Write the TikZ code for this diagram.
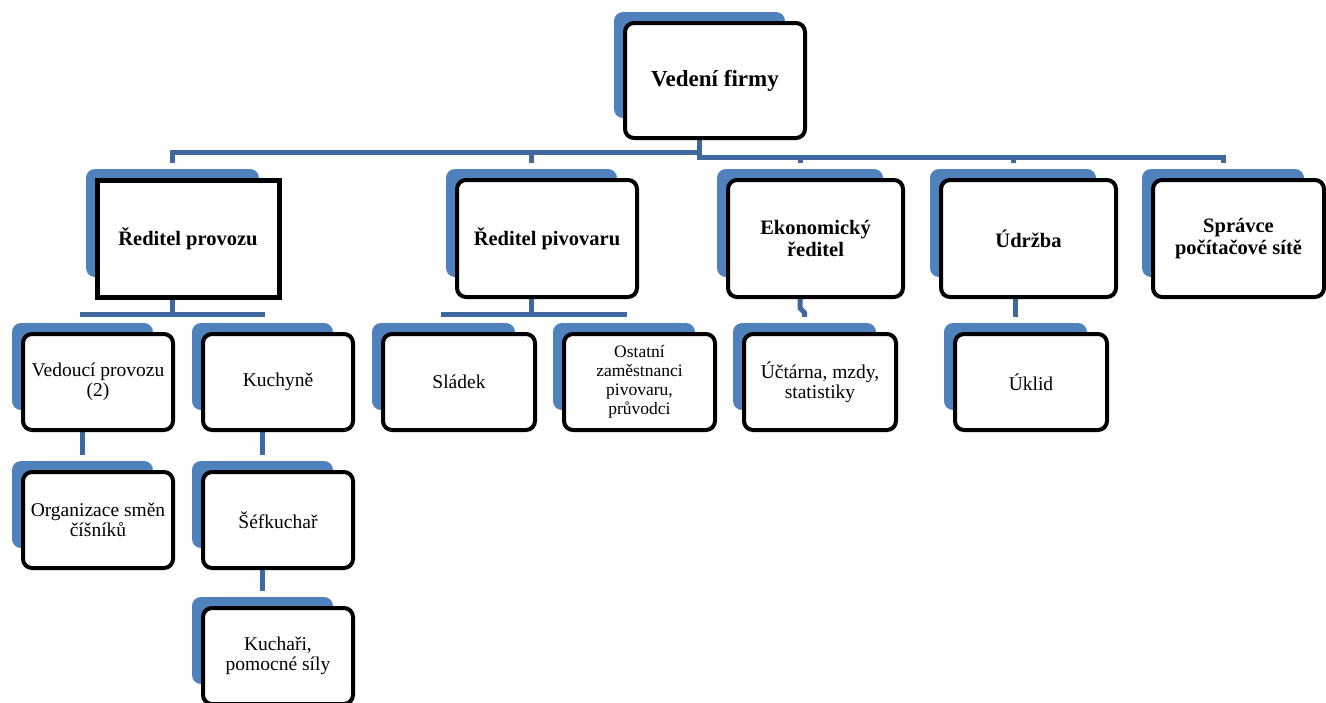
\documentclass[tikz,border=0pt]{standalone}
\usepackage{fontspec}
\setmainfont{Liberation Serif}
\usetikzlibrary{calc}
\pgfdeclarelayer{bg}
\pgfdeclarelayer{mid}
\pgfsetlayers{bg,mid,main}
\definecolor{shadowblue}{RGB}{79,129,189}
\definecolor{lineblue}{RGB}{62,104,158}
\tikzset{
  whitebox/.style={draw=black, line width=4pt, fill=white, rounded corners=9pt,
    inner sep=0pt, align=center, text=black},
  bluebox/.style={fill=shadowblue, rounded corners=9pt, inner sep=0pt},
  squarebox/.style={sharp corners, line width=5pt},
  conn/.style={draw=lineblue, line width=5pt, shorten >=6pt},
  ftop/.style={font=\fontsize{23}{25}\selectfont\bfseries},
  fbold/.style={font=\fontsize{20.5}{22}\selectfont\bfseries},
  fnorm/.style={font=\fontsize{19.5}{20}\selectfont},
  fsmall/.style={font=\fontsize{17.5}{19}\selectfont},
}
% name, left, top, right, bottom, style, text
\newcommand{\obox}[7]{%
  \begin{pgfonlayer}{bg}
    \node[bluebox, minimum width={(#4-#2-9)*1pt}, minimum height={(#5-#3-9)*1pt}]
      (#1-s) at ({(#2+#4)/2-15.5},{(#3+#5)/2-15.5}) {};
  \end{pgfonlayer}
  \node[whitebox, #6, minimum width={(#4-#2)*1pt}, minimum height={(#5-#3)*1pt}]
    (#1) at ({(#2+#4)/2},{(#3+#5)/2}) {#7};
}
\begin{document}
\begin{tikzpicture}[x=1pt, y=-1pt]
\useasboundingbox (0,0) rectangle (1326,702);
% top
\obox{vf}{625}{23}{805}{138}{ftop}{Vedení firmy}
% row 2
\obox{rp}{97}{180}{279}{297}{fbold, squarebox}{Ředitel provozu}
\obox{rv}{457}{180}{637}{297}{fbold}{Ředitel pivovaru}
\obox{ek}{728}{180}{903}{297}{fbold}{Ekonomický\\ředitel}
\obox{ud}{941}{180}{1116}{297}{fbold}{Údržba}
\obox{sp}{1153}{180}{1324}{297}{fbold}{Správce\\počítačové sítě}
% row 3
\obox{vp}{23}{334}{173}{430}{fnorm}{Vedoucí provozu\\(2)}
\obox{ku}{203}{334}{353}{430}{fnorm}{Kuchyně}
\obox{sl}{383}{334}{535}{430}{fnorm}{Sládek}
\obox{os}{564}{334}{715}{430}{fsmall}{Ostatní\\zaměstnanci\\pivovaru,\\průvodci}
\obox{uc}{744}{334}{896}{430}{fnorm}{Účtárna, mzdy,\\statistiky}
\obox{uk}{955}{334}{1107}{430}{fnorm}{Úklid}
% row 4
\obox{or}{23}{472}{173}{568}{fnorm}{Organizace směn\\číšníků}
\obox{sf}{203}{472}{353}{568}{fnorm}{Šéfkuchař}
% row 5
\obox{kc}{203}{608}{353}{704}{fnorm}{Kuchaři,\\pomocné síly}
% connectors
\begin{pgfonlayer}{mid}
\draw[conn] (vf-s |- vf.south) -- ++(0,12) coordinate (b1) -| (rp-s.north);
\draw[conn] (b1) -| (rv-s.north);
\draw[conn] (b1) -- ++(0,5) coordinate (b2) -| (ek-s.north);
\draw[conn] (b2) -| (ud-s.north);
\draw[conn] (b2) -| (sp-s.north);
\draw[conn] (rp-s |- rp.south) -- ++(0,15) coordinate (c1) -| (vp-s.north);
\draw[conn] (c1) -| (ku-s.north);
\draw[conn] (rv-s |- rv.south) -- ++(0,15) coordinate (c2) -| (sl-s.north);
\draw[conn] (c2) -| (os-s.north);
\draw[conn] (ek-s |- ek.south) -- ++(0,9) -- ($(uc-s.north)+(0,-10)$) -- (uc-s.north);
\draw[conn] (uk-s.north |- ud.south) -- (uk-s.north);
\draw[conn] (or-s.north |- vp.south) -- (or-s.north);
\draw[conn] (sf-s.north |- ku.south) -- (sf-s.north);
\draw[conn] (kc-s.north |- sf.south) -- (kc-s.north);
\end{pgfonlayer}
\end{tikzpicture}
\end{document}
